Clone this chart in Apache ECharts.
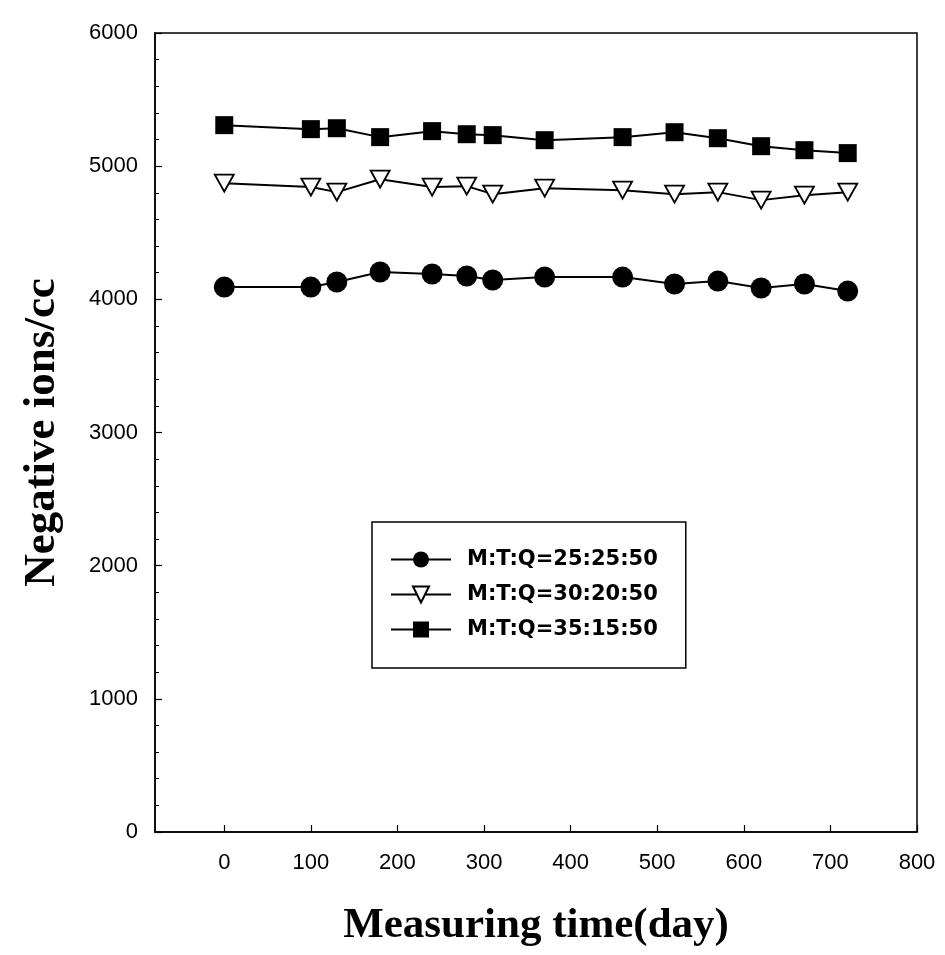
<!DOCTYPE html>
<html>
<head>
<meta charset="utf-8">
<script src="https://cdn.jsdelivr.net/npm/echarts@6/dist/echarts.min.js"></script>
<style>html,body{margin:0;padding:0;background:#fff}#c{width:945px;height:955px}</style>
</head>
<body>
<div id="c"></div>
<script>
var days = [0, 100, 130, 180, 240, 280, 310, 370, 460, 520, 570, 620, 670, 720];
var seriesNames = ['M:T:Q=25:25:50', 'M:T:Q=30:20:50', 'M:T:Q=35:15:50'];
var circleVals = [4092, 4092, 4130, 4205, 4190, 4175, 4145, 4167, 4167, 4115, 4137, 4085, 4115, 4062];
var triangleVals = [4872, 4843, 4805, 4902, 4843, 4850, 4790, 4835, 4820, 4790, 4805, 4745, 4782, 4805];
var squareVals = [5308, 5278, 5285, 5218, 5263, 5240, 5233, 5195, 5218, 5255, 5210, 5150, 5120, 5098];
var xTicks = [0, 100, 200, 300, 400, 500, 600, 700, 800];

function pairs(v) { return days.map(function (d, i) { return [d, v[i]]; }); }

var chart = echarts.init(document.getElementById('c'));
var lbl = { color: '#000', fontFamily: 'Liberation Sans, Arial, sans-serif', fontSize: 22 };
chart.setOption({
  animation: false,
  backgroundColor: '#fff',
  grid: { left: 155, right: 28, top: 33, bottom: 123, show: true, borderColor: '#000', borderWidth: 1.5, backgroundColor: 'transparent' },
  legend: {
    orient: 'vertical', left: 372, top: 522,
    data: seriesNames,
    itemWidth: 60, itemHeight: 20, itemGap: 14,
    padding: [27, 28, 28, 18],
    borderColor: '#000', borderWidth: 1.5, backgroundColor: '#fff',
    textStyle: { color: '#000', fontFamily: 'DejaVu Sans, sans-serif', fontSize: 21, fontWeight: 'bold', lineHeight: 20, padding: [0, 0, 0, 11] }
  },
  xAxis: {
    type: 'value', min: -80, max: 800,
    name: 'Measuring time(day)', nameLocation: 'middle', nameGap: 72,
    nameTextStyle: { color: '#000', fontFamily: 'Liberation Serif, Times New Roman, serif', fontSize: 43, fontWeight: 'bold' },
    axisLine: { show: true, onZero: false, lineStyle: { color: '#000', width: 1.5 } },
    axisTick: { show: true, inside: true, length: 7, customValues: xTicks, lineStyle: { color: '#000', width: 1.2 } },
    axisLabel: Object.assign({ margin: 20, customValues: xTicks }, lbl),
    splitLine: { show: false }
  },
  yAxis: {
    type: 'value', min: 0, max: 6000, interval: 1000,
    name: 'Negative ions/cc', nameLocation: 'middle', nameGap: 90,
    nameTextStyle: { color: '#000', fontFamily: 'Liberation Serif, Times New Roman, serif', fontSize: 45, fontWeight: 'bold' },
    axisLine: { show: true, onZero: false, lineStyle: { color: '#000', width: 1.5 } },
    axisTick: { show: true, inside: true, length: 7, lineStyle: { color: '#000', width: 1.2 } },
    minorTick: { show: true, splitNumber: 5, length: 4, lineStyle: { color: '#000', width: 1 } },
    axisLabel: Object.assign({ margin: 17, formatter: function (v) { return String(v); } }, lbl),
    splitLine: { show: false }
  },
  series: [
    {
      name: seriesNames[0], type: 'line', data: pairs(circleVals),
      symbol: 'circle', symbolSize: 21,
      lineStyle: { color: '#000', width: 2 },
      itemStyle: { color: '#000', borderColor: '#000', borderWidth: 0 }
    },
    {
      name: seriesNames[1], type: 'line', data: pairs(triangleVals),
      symbol: 'path://M0,0 L20,0 L10,18 Z', symbolSize: [19, 17],
      lineStyle: { color: '#000', width: 2 },
      itemStyle: { color: '#fff', borderColor: '#000', borderWidth: 1.8 }
    },
    {
      name: seriesNames[2], type: 'line', data: pairs(squareVals),
      symbol: 'rect', symbolSize: 18,
      lineStyle: { color: '#000', width: 2 },
      itemStyle: { color: '#000', borderColor: '#000', borderWidth: 0 }
    }
  ]
});
</script>
</body>
</html>
